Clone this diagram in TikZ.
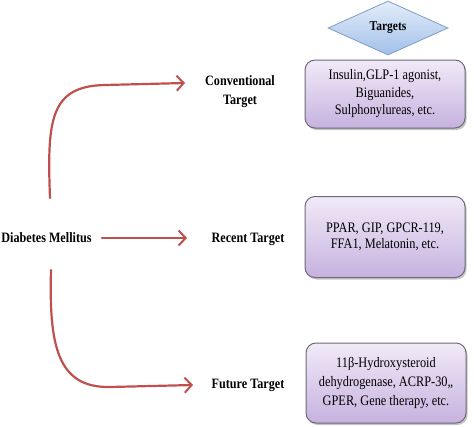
\documentclass[tikz,border=0pt]{standalone}
\usepackage{fontspec}
\setmainfont{Liberation Serif}[FakeStretch=0.85]
\usetikzlibrary{shapes.geometric,shadows,arrows.meta}
\definecolor{arrowred}{HTML}{C0504D}
\definecolor{boxtop}{HTML}{F1EAF8}
\definecolor{boxbot}{HTML}{C6B2DF}
\definecolor{boxline}{HTML}{6E6A78}
\definecolor{dtop}{HTML}{E3EDF9}
\definecolor{dbot}{HTML}{A2C0E9}
\definecolor{dline}{HTML}{7E9CC6}
\tikzset{
  tbox/.style={draw=boxline, line width=1pt, rounded corners=10pt,
    top color=boxtop, bottom color=boxbot, minimum width=160pt,
    align=center, inner sep=0pt,
    drop shadow={shadow xshift=1.5pt, shadow yshift=-2pt, fill=black!45, opacity=0.5},
    font=\fontsize{14.5}{17.5}\selectfont},
  tdiam/.style={diamond, draw=dline, line width=0.8pt, top color=dtop, bottom color=dbot,
    minimum width=120pt, minimum height=54pt, inner sep=0pt,
    font=\fontsize{13.5}{16}\selectfont\bfseries},
  lbl/.style={inner sep=0pt, align=center, font=\fontsize{14.3}{19}\selectfont\bfseries},
  redarrow/.style={draw=arrowred, line width=2.2pt, line cap=round,
    -{Straight Barb[length=7pt,width=15pt,line width=2pt]}}
}
\begin{document}
\begin{tikzpicture}[x=1pt,y=-1pt]
\useasboundingbox (0,0) rectangle (474,426);
\node[tdiam] (tg) at (388,28) {Targets};
\node[tbox, minimum height=68pt] (b1) at (385,94) {Insulin,GLP-1 agonist,\\Biguanides,\\Sulphonylureas, etc.};
\node[tbox, minimum height=81pt, font=\fontsize{14.5}{15.5}\selectfont] (b2) at (385,237) {PPAR, GIP, GPCR-119,\\FFA1, Melatonin, etc.};
\node[tbox, minimum height=80pt, font=\fontsize{14.5}{19}\selectfont] (b3) at (386,383) {11β-Hydroxysteroid\\dehydrogenase, ACRP-30,,\\GPER, Gene therapy, etc.};
\node[lbl] (dm) at (46.5,238) {Diabetes Mellitus};
\node[lbl] (conv) at (240,92) {Conventional\\Target};
\node[lbl] (rec) at (248,239) {Recent Target};
\node[lbl] (fut) at (248,385) {Future Target};
\coordinate (a1s) at (50,198);
\coordinate (a1e) at (185,83);
\coordinate (a2s) at (102,238);
\coordinate (a2e) at (187,238);
\coordinate (a3s) at (51,270);
\coordinate (a3e) at (193,385);
\draw[redarrow] (a1s) .. controls (47,120) and (50,86) .. (105,85) -- (a1e);
\draw[redarrow] (a2s) -- (a2e);
\draw[redarrow] (a3s) .. controls (49,345) and (57,388) .. (110,387) -- (a3e);
\end{tikzpicture}
\end{document}
